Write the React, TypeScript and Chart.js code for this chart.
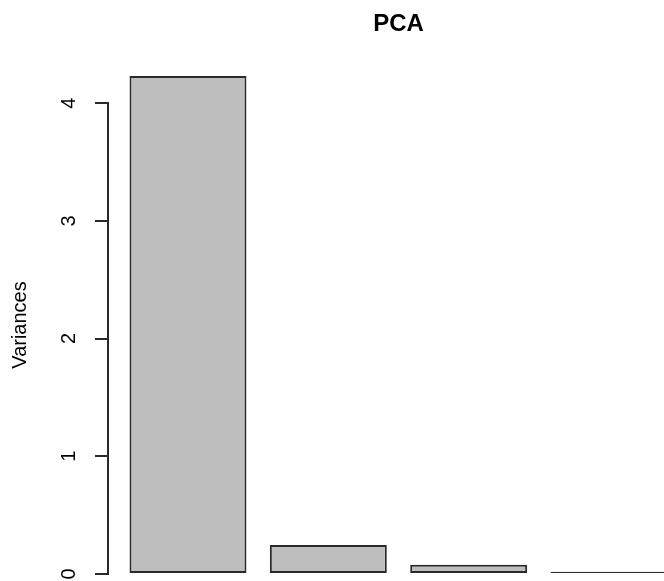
import React, { useEffect, useRef } from "react";
import { Chart, registerables } from "chart.js";

Chart.register(...registerables);

const components = [1, 2, 3, 4];
const componentNames = ["Comp.1", "Comp.2", "Comp.3", "Comp.4"];
const variances = [4.23, 0.246, 0.079, 0.02];
const yTickStep = 1;
const chartTitle = "PCA";
const yTitle = "Variances";

const FONT = "'Liberation Sans', Arial, sans-serif";
const LINE = "#2a2a2a";

const rAxisPlugin = {
  id: "rAxis",
  afterDraw(chart: any) {
    const { ctx, chartArea } = chart;
    const y = chart.scales.y;
    const ticks = y.ticks.map((t: any) => t.value);
    const lo = Math.min(...ticks);
    const hi = Math.max(...ticks);
    ctx.save();
    ctx.strokeStyle = LINE;
    ctx.lineWidth = 2;
    ctx.lineCap = "square";
    ctx.beginPath();
    const x = Math.round(chartArea.left);
    ctx.moveTo(x, Math.round(y.getPixelForValue(lo)));
    ctx.lineTo(x, Math.round(y.getPixelForValue(hi)));
    ctx.stroke();
    // main title, centred over the plot region
    ctx.fillStyle = "#000";
    ctx.font = `bold 24px ${FONT}`;
    ctx.textAlign = "center";
    ctx.textBaseline = "middle";
    ctx.fillText(chartTitle, (chartArea.left + chartArea.right) / 2, 24);
    ctx.restore();
  },
};

export default function App() {
  const ref = useRef<HTMLCanvasElement | null>(null);
  useEffect(() => {
    if (!ref.current) return;
    const chart = new Chart(ref.current, {
      type: "bar",
      data: {
        labels: componentNames,
        datasets: [
          {
            data: components.map((c, i) => ({ x: c, y: variances[i] })),
            backgroundColor: "#bebebe",
            borderColor: LINE,
            borderWidth: 2,
            borderSkipped: false,
            categoryPercentage: 1,
            barPercentage: 1 / 1.2,
          },
        ],
      },
      options: {
        animation: false,
        responsive: false,
        layout: { padding: { left: 0, right: 31, top: 56, bottom: 46 } },
        plugins: { legend: { display: false }, tooltip: { enabled: false }, title: { display: false } },
        scales: {
          x: {
            type: "linear",
            min: 0.43,
            max: 4.57,
            offset: false,
            display: false,
            ticks: { stepSize: 1, includeBounds: false },
          },
          y: {
            type: "linear",
            position: "left",
            min: -0.17,
            max: 4.4,
            afterFit: (s: any) => {
              s.width = 108;
            },
            border: { display: false },
            grid: { drawOnChartArea: false, drawTicks: true, tickLength: 13, color: LINE, lineWidth: 2 },
            ticks: {
              stepSize: yTickStep,
              includeBounds: false,
              minRotation: 90,
              maxRotation: 90,
              crossAlign: "center",
              padding: 20,
              color: "#000",
              font: { family: FONT, size: 20 },
            },
            title: {
              display: true,
              text: yTitle,
              color: "#000",
              font: { family: FONT, size: 20 },
              padding: { top: 8, bottom: 0 },
            },
          },
        },
      },
      plugins: [rAxisPlugin],
    } as any);
    return () => chart.destroy();
  }, []);
  return (
    <div style={{ position: "fixed", left: 0, top: 0, width: 664, height: 581, overflow: "hidden", background: "#fff" }}>
      <canvas ref={ref} width={720} height={640} style={{ display: "block" }} />
    </div>
  );
}
